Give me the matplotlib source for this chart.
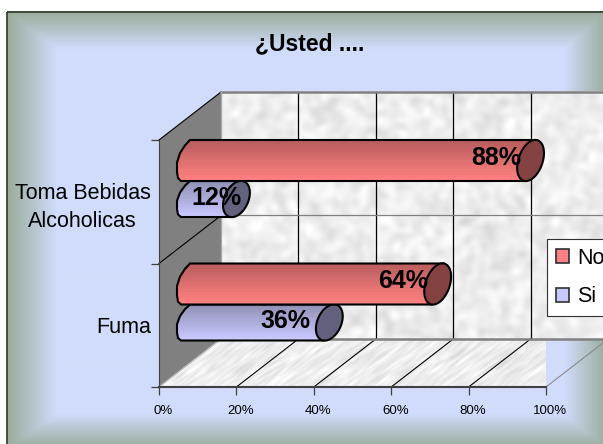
import matplotlib
matplotlib.use('Agg')
import matplotlib.pyplot as plt
import numpy as np
from matplotlib.patches import Patch, Polygon, Rectangle
from matplotlib.transforms import Affine2D, ScaledTranslation

plt.rcParams['font.family'] = ['Liberation Sans', 'DejaVu Sans']

# Data
categories = ['Fuma', 'Toma Bebidas\nAlcoholicas']
no_values = [64, 88]
si_values = [36, 12]
x_ticks = [0, 20, 40, 60, 80, 100]

W, H = 603, 444
fig = plt.figure(figsize=(W / 100, H / 100), dpi=100, facecolor='white')

# Frame with a bevelled edge, drawn in pixel coordinates
bg = fig.add_axes([0, 0, 1, 1])
bg.set_axis_off()
left, top, right, bottom = 7, 12, 606, 447
xx, yy = np.meshgrid(np.arange(left, right), np.arange(top, bottom))
t = np.minimum.reduce([(xx - left) / 50, (yy - top) / 38, (right - xx) / 42, (bottom - yy) / 34])
t = np.clip(t, 0, 1)[..., None]
edge_col = np.array([154, 172, 154]) / 255
face_col = np.array([209, 220, 252]) / 255
bg.imshow(edge_col + (face_col - edge_col) * t, extent=(left, right, bottom, top), aspect='auto')
bg.add_patch(Rectangle((left, top), right - left, bottom - top, fill=False, ec='#2c3a2c', lw=1.2, clip_on=False))
bg.set_xlim(0, W)
bg.set_ylim(H, 0)

# Main axes sit on the front plane of the 3D box
ax = fig.add_axes([159 / W, (H - 387) / H, 387 / W, 247 / H])
ax.patch.set_visible(False)
px_x = 100 / 387
px_y = 2 / 247
depth_x = 62 * px_x
depth_y = 48 * px_y


def texture(rows, cols, seed, stretch=1.0):
    # soft grey marble for the walls
    rng = np.random.default_rng(seed)
    noise = rng.normal(size=(rows, cols))
    fy = np.fft.fftfreq(rows)[:, None]
    fx = np.fft.fftfreq(cols)[None, :]
    spectrum = np.fft.fft2(noise) * np.exp(-((fx * 5 / stretch) ** 2 + (fy * 5) ** 2) * 9)
    smooth = np.fft.ifft2(spectrum).real
    smooth = smooth / smooth.std()
    return np.clip(0.93 + smooth * 0.024, 0.78, 1.0)


# Side wall
ax.add_patch(Polygon([(0, 0), (depth_x, depth_y), (depth_x, 2 + depth_y), (0, 2)],
                     fc='#808080', ec='none', clip_on=False, zorder=1))

# Back wall
ax.imshow(texture(250, 390, 3), cmap='gray', vmin=0, vmax=1, aspect='auto', zorder=1,
          extent=(depth_x, 100 + depth_x, depth_y, 2 + depth_y), clip_on=False)

# Floor, the texture is sheared along the depth direction
floor_poly = Polygon([(0, 0), (100, 0), (100 + depth_x, depth_y), (depth_x, depth_y)],
                     fc='none', ec='none', transform=ax.transData)
ax.add_patch(floor_poly)
shear = Affine2D.from_values(1, 0, depth_x / depth_y, 1, 0, 0)
floor_img = ax.imshow(texture(48, 390, 8, stretch=2.5), cmap='gray', vmin=0, vmax=1, aspect='auto', zorder=1,
                      extent=(0, 100, 0, depth_y), transform=shear + ax.transData)
floor_img.set_clip_path(floor_poly)

# Gridlines on floor and back wall
for v in x_ticks:
    floor_col = 'black' if 0 < v < 100 else '#8a8a8a'
    ax.plot([v, v + depth_x], [0, depth_y], color=floor_col, lw=0.8, clip_on=False, zorder=2)
    if v > 0:
        ax.plot([v + depth_x] * 2, [depth_y, 2 + depth_y], color='black', lw=0.9, clip_on=False, zorder=2)
for c in range(3):
    ax.plot([0, depth_x], [c, c + depth_y], color='black' if c else '#c8c8c8', lw=0.8, clip_on=False, zorder=2)
    ax.plot([depth_x, 100 + depth_x], [c + depth_y] * 2, color='#808080', lw=1.8 if c != 1 else 0.9,
            clip_on=False, zorder=2)
ax.plot([depth_x, depth_x], [depth_y, 2 + depth_y], color='#a8a8a8', lw=1.0, clip_on=False, zorder=2)


def draw_bar(value, y_top, height, colors, cap_col, z):
    # cylinder lying along x: curved left end, gradient body and tilted end cap
    y_bot = y_top - height
    x_end = value + 31 * px_x
    left_x = np.array([31, 26, 21, 18, 18, 19, 22]) * px_x
    left_y = y_top - np.array([0, 0.13, 0.32, 0.55, 0.78, 0.93, 1.0]) * height
    outline = list(zip(left_x[::-1], left_y[::-1])) + [(x_end + 6 * px_x, y_top), (x_end - 6 * px_x, y_bot)]
    body = Polygon(outline, closed=True, fc='none', ec='none', transform=ax.transData)
    ax.add_patch(body)
    steps = np.linspace(0, 1, 14)[:, None, None]
    c0 = np.array(matplotlib.colors.to_rgb(colors[0]))
    c1 = np.array(matplotlib.colors.to_rgb(colors[1]))
    img = ax.imshow(c0 + (c1 - c0) * steps, extent=(0, x_end + 8, y_bot, y_top), aspect='auto',
                    origin='upper', zorder=z, interpolation='nearest')
    img.set_clip_path(body)
    ax.add_patch(Polygon(outline, closed=True, fc='none', ec='black', lw=1.5, clip_on=False, zorder=z + 0.1))
    # end cap
    a = np.linspace(0, 2 * np.pi, 80)
    half = height / 2
    cx = x_end + (np.cos(a) * 6 + np.sin(a) * 12) * px_x
    cy = y_top - half + np.cos(a) * half - np.sin(a) * 2 * px_y
    ax.fill(cx, cy, fc=cap_col, ec='black', lw=1.5, clip_on=False, zorder=z + 0.2)


no_h = 41 * px_y
si_h = 36 * px_y
for i in range(len(categories)):
    draw_bar(si_values[i], i + 1 - no_h, si_h, ('#9292b8', '#c8c8ff'), '#62627f', 3 + i)
    draw_bar(no_values[i], i + 1, no_h, ('#bb5e5e', '#ff8080'), '#854242', 3.5 + i)

# Value labels, nudged along the bars
no_nudge = [-4, -3]
si_nudge = [-13, 11]
for i in range(len(categories)):
    ax.text(no_values[i] + no_nudge[i] * px_x, i + 1 - 18 * px_y, f'{no_values[i]}%', fontsize=18, fontweight='bold',
            ha='center', va='center', zorder=9)
    ax.text(si_values[i] + si_nudge[i] * px_x, i + 1 - 58 * px_y, f'{si_values[i]}%', fontsize=18, fontweight='bold',
            ha='center', va='center', zorder=9)

# Axes and ticks
for s in ['top', 'right']:
    ax.spines[s].set_visible(False)
ax.spines['bottom'].set_color('#404040')
ax.spines['bottom'].set_linewidth(1.5)
ax.spines['left'].set_color('#404040')
ax.spines['left'].set_zorder(2)
ax.set_xlim(0, 100)
ax.set_ylim(0, 2)
ax.set_xticks(x_ticks)
ax.set_xticklabels([f'{v}%' for v in x_ticks], fontsize=9.5)
ax.set_yticks([0, 1, 2])
ax.set_yticklabels([])
ax.set_yticks([0.5, 1.5], labels=categories, minor=True, fontsize=15.5, multialignment='center', linespacing=1.45)
ax.tick_params(axis='y', which='major', length=6, width=0.9, color='#404040')
ax.tick_params(axis='y', which='minor', length=0, pad=6)
ax.tick_params(axis='x', length=6, width=0.9, color='#404040', pad=7)
shift = ScaledTranslation(4 / 100, 0, fig.dpi_scale_trans)
for lab in ax.get_xticklabels():
    lab.set_transform(lab.get_transform() + shift)

# Legend
handles = [Patch(fc='#ff8080', ec='#303030', lw=1.2, label='No'),
           Patch(fc='#c8c8ff', ec='#303030', lw=1.2, label='Si')]
leg = ax.legend(handles=handles, loc='upper left', bbox_to_anchor=(547 / W, 1 - 239 / H),
                bbox_transform=fig.transFigure, borderaxespad=0, fontsize=15.5, frameon=True, fancybox=False,
                framealpha=1, edgecolor='#303030', handlelength=0.62, handleheight=0.62, handletextpad=0.38,
                labelspacing=0.82, borderpad=0.4)
leg.get_frame().set_linewidth(0.8)
leg.set_zorder(10)

fig.text(309.5 / W, 1 - 44 / H, '¿Usted ....', fontsize=16.5, fontweight='bold', ha='center', va='center')

plt.savefig('out.png', dpi=100)
